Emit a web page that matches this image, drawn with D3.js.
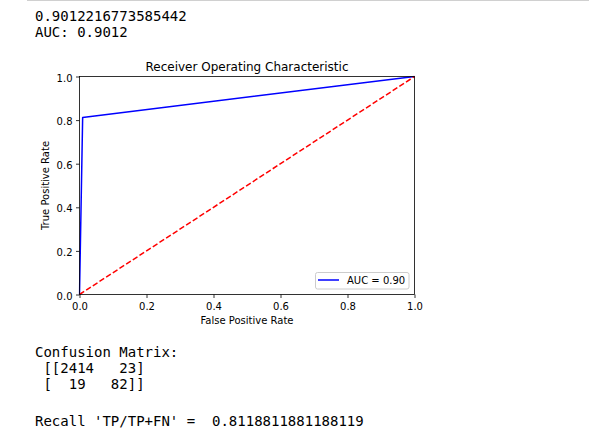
<!DOCTYPE html>
<html><head><meta charset="utf-8">
<script src="https://cdn.jsdelivr.net/npm/d3@7"></script>
<style>
html,body{margin:0;padding:0;background:#fff;}
svg{display:block;}
</style></head>
<body>
<svg id="c" width="589" height="445"></svg>
<script>
// ---- data ----
const fpr = [0, 0.0094, 1];
const tpr = [0, 0.8119, 1];
const chanceX = [0, 1];
const chanceY = [0, 1];
const xTicks = [0, 0.2, 0.4, 0.6, 0.8, 1.0];
const yTicks = [0, 0.2, 0.4, 0.6, 0.8, 1.0];
const headerLines = ["0.9012216773585442", "AUC: 0.9012"];
const footerLines = ["Confusion Matrix:", " [[2414   23]", " [  19   82]]", "", "Recall 'TP/TP+FN' =  0.8118811881188119"];
const titleText = "Receiver Operating Characteristic";
const xLabel = "False Positive Rate";
const yLabel = "True Positive Rate";
const legendLabel = "AUC = 0.90";

const svg = d3.select("#c");
const mono = "'DejaVu Sans Mono', monospace";
const sans = "'DejaVu Sans', sans-serif";

// top separator
svg.append("line").attr("x1",27).attr("x2",589).attr("y1",0.5).attr("y2",0.5)
  .attr("stroke","#d0d0d0").attr("stroke-width",1);

const headerY = [21, 37];
headerLines.forEach((t,i)=>{
  svg.append("text").attr("x",35).attr("y",headerY[i]).attr("font-family",mono)
    .attr("font-size",14).attr("fill","#000").style("white-space","pre").text(t);
});

const footerY = [357, 373, 389, 405, 426];
footerLines.forEach((t,i)=>{
  svg.append("text").attr("x",35).attr("y",footerY[i]).attr("font-family",mono)
    .attr("font-size",14).attr("fill","#000").style("white-space","pre").text(t);
});

// plot
const L=79.5, R=414.5, T=76.5, B=294.5;
const x = d3.scaleLinear().domain([0,1]).range([L,R]);
const y = d3.scaleLinear().domain([0,1]).range([B,T]);

const g = svg.append("g");
svg.append("clipPath").attr("id","clip").append("rect").attr("x",L-1).attr("y",T-1).attr("width",R-L+2).attr("height",B-T+2);
const line = d3.line().x(d=>x(d[0])).y(d=>y(d[1]));
g.append("path").attr("clip-path","url(#clip)")
  .datum(fpr.map((v,i)=>[v,tpr[i]])).attr("d",line)
  .attr("fill","none").attr("stroke","#0000ff").attr("stroke-width",1.5).attr("stroke-linejoin","round");
g.append("path").attr("clip-path","url(#clip)")
  .datum(chanceX.map((v,i)=>[v,chanceY[i]])).attr("d",line)
  .attr("fill","none").attr("stroke","#ff0000").attr("stroke-width",1.5).attr("stroke-dasharray","5.55,2.4");

// axes
const xAxis = d3.axisBottom(x).tickValues(xTicks).tickFormat(d3.format(".1f")).tickSize(3.5).tickPadding(4.5);
const yAxis = d3.axisLeft(y).tickValues(yTicks).tickFormat(d3.format(".1f")).tickSize(3.5).tickPadding(3.5);
const gx = svg.append("g").attr("transform",`translate(0,${B})`).call(xAxis);
const gy = svg.append("g").attr("transform",`translate(${L},0)`).call(yAxis);
[gx,gy].forEach(a=>{
  a.select(".domain").remove();
  a.selectAll(".tick line").attr("stroke","#000").attr("stroke-width",0.8);
  a.selectAll(".tick text").attr("font-family",sans).attr("font-size",10).attr("fill","#000");
});
gy.selectAll(".tick text").attr("dy","0.45em");
// spines
svg.append("rect").attr("x",L).attr("y",T).attr("width",R-L).attr("height",B-T)
  .attr("fill","none").attr("stroke","#000").attr("stroke-width",0.8);

// title & labels
svg.append("text").attr("x",(L+R)/2).attr("y",71).attr("text-anchor","middle")
  .attr("font-family",sans).attr("font-size",12).attr("fill","#000").text(titleText);
svg.append("text").attr("x",(L+R)/2).attr("y",324).attr("text-anchor","middle")
  .attr("font-family",sans).attr("font-size",10).attr("fill","#000").text(xLabel);
svg.append("text").attr("transform",`translate(48.5,${(T+B)/2}) rotate(-90)`).attr("text-anchor","middle")
  .attr("font-family",sans).attr("font-size",10).attr("fill","#000").text(yLabel);

// legend
const lg = svg.append("g");
lg.append("rect").attr("x",315.5).attr("y",272.5).attr("width",93.5).attr("height",16.5).attr("rx",2)
  .attr("fill","#fff").attr("fill-opacity",0.8).attr("stroke","#cccccc").attr("stroke-width",1);
lg.append("line").attr("x1",318).attr("x2",339).attr("y1",280).attr("y2",280)
  .attr("stroke","#0000ff").attr("stroke-width",1.5);
lg.append("text").attr("x",347).attr("y",284).attr("font-family",sans).attr("font-size",10).attr("fill","#000").text(legendLabel);
</script>
</body></html>
